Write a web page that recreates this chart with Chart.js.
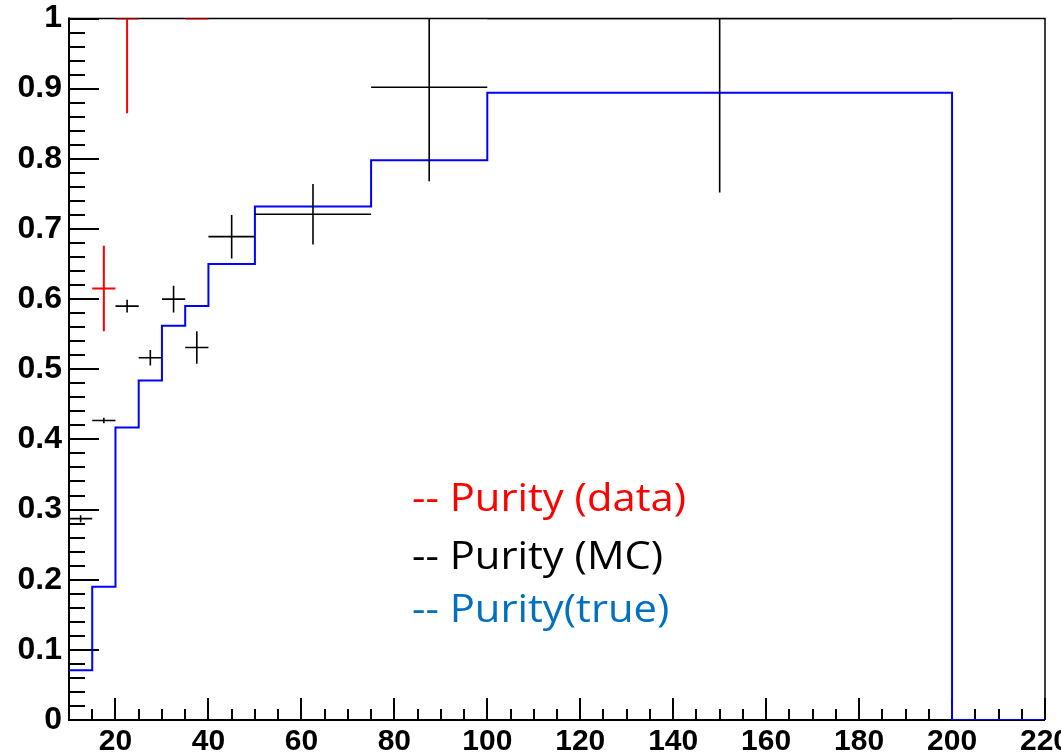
<!DOCTYPE html>
<html><head><meta charset="utf-8">
<script src="https://cdn.jsdelivr.net/npm/chart.js@4.4.1/dist/chart.umd.min.js"></script>
<style>html,body{margin:0;padding:0;background:#fff;} #wrap{width:1061px;height:756px;}</style>
</head><body><div id="wrap"><canvas id="c" width="1061" height="756"></canvas></div>
<script>
// ---- data ----
const binEdges   = [10, 15, 20, 25, 30, 35, 40, 50, 75, 100, 200, 220];
const purityTrue = [0.071, 0.190, 0.417, 0.484, 0.562, 0.590, 0.650, 0.732, 0.798, 0.894, 0.0];

const mcX    = [12.5, 17.5, 22.5, 27.5, 32.5, 37.5, 45, 62.5, 87.5, 150];
const mcXErr = [2.5, 2.5, 2.5, 2.5, 2.5, 2.5, 5, 12.5, 12.5, 50];
const mcY    = [0.287, 0.427, 0.590, 0.5165, 0.600, 0.531, 0.689, 0.721, 0.902, 1.0];
const mcYErr = [0.005, 0.004, 0.009, 0.011, 0.019, 0.023, 0.031, 0.043, 0.134, 0.248];

const dataX    = [17.5, 22.5, 37.5];
const dataXErr = [2.5, 2.5, 2.5];
const dataY    = [0.615, 1.0, 1.0];
const dataYErr = [0.061, 0.135, 0.0];

const xTickLabels = [20, 40, 60, 80, 100, 120, 140, 160, 180, 200, 220];
const yTickLabels = [0, 0.1, 0.2, 0.3, 0.4, 0.5, 0.6, 0.7, 0.8, 0.9, 1];

const legendLabels = ['-- Purity (data)', '-- Purity (MC)', '-- Purity(true)'];
const legendColors = ['#ff0000', '#000000', '#0070c0'];

// ---- build library data ----
const stepPoints = binEdges.map((e, i) => ({x: e, y: i < purityTrue.length ? purityTrue[i] : purityTrue[purityTrue.length - 1]}));

function errorSegments(xs, xe, ys, ye) {
  const pts = [];
  for (let i = 0; i < xs.length; i++) {
    pts.push({x: xs[i] - xe[i], y: ys[i]}, {x: xs[i] + xe[i], y: ys[i]}, {x: xs[i], y: null});
    pts.push({x: xs[i], y: ys[i] - ye[i]}, {x: xs[i], y: ys[i] + ye[i]}, {x: xs[i], y: null});
  }
  return pts;
}

const AXIS_FONT = "'Liberation Sans', Arial, sans-serif";

const rootAxes = {
  id: 'rootAxes',
  beforeDatasetsDraw(chart) {
    const {ctx, chartArea: a, scales: {x, y}} = chart;
    ctx.save();
    ctx.strokeStyle = '#000';
    ctx.lineWidth = 1.5;
    ctx.beginPath();
    ctx.moveTo(a.left, a.top); ctx.lineTo(a.right, a.top); ctx.lineTo(a.right, a.bottom);
    ctx.stroke();
    ctx.lineWidth = 2;
    ctx.beginPath();
    ctx.moveTo(a.left, a.top - 1); ctx.lineTo(a.left, a.bottom); ctx.lineTo(a.right, a.bottom);
    ctx.stroke();
    ctx.beginPath();
    for (let k = 1; k <= 50; k++) {
      const py = Math.round(y.getPixelForValue(k / 50));
      const len = (k % 5 === 0) ? 30 : 16;
      ctx.moveTo(a.left, py); ctx.lineTo(a.left + len, py);
    }
    ctx.stroke();
    ctx.beginPath();
    for (let v = 15; v <= 220; v += 5) {
      const px = Math.round(x.getPixelForValue(v));
      const len = (v % 20 === 0) ? 22 : 11;
      ctx.moveTo(px, a.bottom); ctx.lineTo(px, a.bottom - len);
    }
    ctx.stroke();
    ctx.restore();
  },
  afterDraw(chart) {
    const ctx = chart.ctx;
    ctx.save();
    ctx.font = "38px 'Open Sans'";
    ctx.textBaseline = 'alphabetic';
    ctx.textAlign = 'left';
    const sx = 274 / ctx.measureText(legendLabels[0]).width;
    const base = [511, 569, 622];
    legendLabels.forEach((t, i) => {
      ctx.save();
      ctx.translate(412, base[i]);
      ctx.scale(sx, 1);
      ctx.fillStyle = legendColors[i];
      ctx.fillText(t, 0, 0);
      ctx.restore();
    });
    ctx.restore();
  }
};

new Chart(document.getElementById('c'), {
  type: 'line',
  data: {
    datasets: [
      {label: 'Purity (data)', data: errorSegments(dataX, dataXErr, dataY, dataYErr),
       borderColor: '#ff0000', borderWidth: 2, pointRadius: 0, spanGaps: false, tension: 0},
      {label: 'Purity (MC)', data: errorSegments(mcX, mcXErr, mcY, mcYErr),
       borderColor: '#000000', borderWidth: 1.6, pointRadius: 0, spanGaps: false, tension: 0},
      {label: 'Purity(true)', data: stepPoints, stepped: 'before',
       borderColor: '#0000ff', borderWidth: 2, pointRadius: 0, tension: 0}
    ]
  },
  options: {
    responsive: false,
    animation: false,
    events: [],
    layout: {padding: {left: 0, top: 18.5, right: 16, bottom: 0}},
    plugins: {legend: {display: false}, tooltip: {enabled: false}},
    scales: {
      x: {
        type: 'linear', min: 10, max: 220,
        afterBuildTicks(s) { s.ticks = xTickLabels.map(v => ({value: v})); },
        afterFit(s) { s.height = 36; s.paddingLeft = 0; s.paddingRight = 0; },
        grid: {display: false, drawTicks: false},
        border: {display: false},
        ticks: {color: '#000', font: {family: AXIS_FONT, weight: 'bold', size: 30}, padding: 4, maxRotation: 0, autoSkip: false}
      },
      y: {
        type: 'linear', min: 0, max: 1,
        afterBuildTicks(s) { s.ticks = yTickLabels.map(v => ({value: v})); },
        afterFit(s) { s.width = 69; s.paddingTop = 0; s.paddingBottom = 0; },
        grid: {display: false, drawTicks: false},
        border: {display: false},
        ticks: {color: '#000', font: {family: AXIS_FONT, weight: 'bold', size: 32}, padding: 7,
                callback: v => String(v)}
      }
    }
  },
  plugins: [rootAxes]
});
</script>
</body></html>
